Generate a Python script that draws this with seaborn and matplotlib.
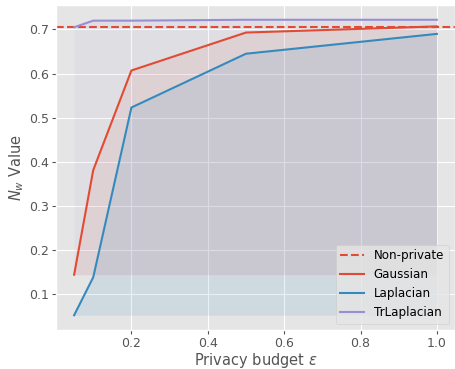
import matplotlib
matplotlib.use("Agg")
import matplotlib.pyplot as plt
import seaborn as sns
import pandas as pd
import numpy as np

epsilons = [0.05, 0.1, 0.2, 0.5, 1.0]
gaussian = [0.144, 0.381, 0.607, 0.693, 0.707]
laplacian = [0.052, 0.138, 0.523, 0.645, 0.690]
trlaplacian = [0.705, 0.720, 0.720, 0.722, 0.722]
non_private = 0.706

plt.style.use("ggplot")
fig = plt.figure(figsize=(4.55, 3.69), dpi=100)
ax = fig.add_axes([56 / 455, 39 / 369, 399 / 455, 325 / 369])

colors = {"Gaussian": "#E24A33", "Laplacian": "#348ABD", "TrLaplacian": "#988ED5"}
series = {"Gaussian": gaussian, "Laplacian": laplacian, "TrLaplacian": trlaplacian}
floors = {"Gaussian": min(gaussian), "Laplacian": min(laplacian), "TrLaplacian": min(gaussian)}
alphas = {"Gaussian": 0.09, "Laplacian": 0.12, "TrLaplacian": 0.08}

ax.axhline(non_private, color="#E24A33", linestyle="--", linewidth=1.5, label="Non-private")
for name, vals in series.items():
    df = pd.DataFrame({"eps": epsilons, "val": vals})
    sns.lineplot(data=df, x="eps", y="val", ax=ax, color=colors[name], label=name, linewidth=1.5)
    ax.fill_between(epsilons, vals, floors[name], color=colors[name], alpha=alphas[name], linewidth=0)

ax.set_xlabel(r"Privacy budget $\epsilon$", fontsize=10.5, labelpad=1)
ax.set_ylabel(r"$N_w$ Value", fontsize=10.5, labelpad=2)
ax.set_xticks([0.2, 0.4, 0.6, 0.8, 1.0])
ax.set_yticks([0.1, 0.2, 0.3, 0.4, 0.5, 0.6, 0.7])
ax.tick_params(labelsize=9, pad=2, length=3)
ax.legend(loc="lower right", fontsize=8.6)
fig.savefig("out.png", dpi=100)
